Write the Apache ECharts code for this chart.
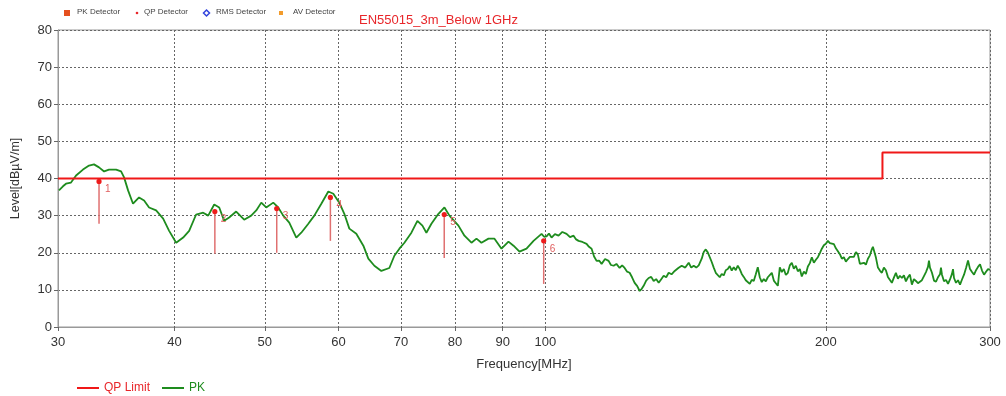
<!DOCTYPE html>
<html>
<head>
<meta charset="utf-8">
<title>EN55015_3m_Below 1GHz</title>
<script src="https://cdn.jsdelivr.net/npm/echarts@6/dist/echarts.min.js"></script>
<style>
  html, body { margin: 0; padding: 0; background: #ffffff; }
  #chart { width: 1006px; height: 396px; }
</style>
</head>
<body>
<div id="chart"></div>
<script>
// Frequency axis tick positions (MHz)
const freqTicks = [30, 40, 50, 60, 70, 80, 90, 100, 200, 300];

// Quasi-peak limit line (MHz, dBµV/m)
const limitFreq = [30, 230, 230, 300];
const limitLevel = [40, 40, 47, 47];

// Peak scan trace (MHz)
const pkFreq = [
  30.07, 30.37, 30.60, 30.98, 31.37, 31.91, 32.39, 32.79, 33.20, 33.62,
  34.03, 34.63, 35.06, 35.32, 35.67, 36.11, 36.65, 37.11, 37.57, 38.23,
  38.90, 39.48, 40.17, 40.87, 41.48, 42.20, 42.94, 43.48, 44.13, 44.68,
  45.23, 45.79, 46.59, 47.52, 48.35, 48.96, 49.57, 50.18, 51.06, 51.69,
  52.34, 53.12, 54.05, 54.72, 55.68, 56.51, 57.50, 58.50, 59.23, 60.11,
  60.86, 61.62, 62.69, 63.79, 64.58, 65.55, 66.69, 68.02, 68.87, 69.73,
  70.60, 71.83, 72.90, 73.81, 74.54, 75.47, 76.79, 77.94, 78.91, 80.68,
  81.89, 83.32, 84.36, 85.40, 86.90, 88.20, 89.74, 91.30, 92.44, 93.82,
  95.46, 97.13, 99.07, 99.7, 100.30, 100.9, 101.55, 102.4, 103.32, 104.3,
  105.39, 106.3, 107.23, 107.9, 108.56, 109.6, 110.73, 111.4, 112.11, 112.8,
  113.50, 114.2, 114.92, 115.9, 116.92, 117.6, 118.38, 119.2, 120.15, 120.9,
  121.64, 122.4, 123.16, 123.9, 124.69, 125.5, 126.24, 126.9, 127.50, 128.3,
  129.08, 129.9, 130.69, 131.5, 132.32, 133.1, 133.96, 134.8, 135.63, 136.6,
  137.66, 138.9, 140.06, 141.3, 142.51, 143.4, 144.28, 145.2, 146.08,
  147.16, 147.90, 148.64, 149.38, 150.11, 150.85, 151.60, 152.36, 153.11, 153.87,
  154.62, 155.40, 156.17, 156.95, 157.72, 158.50, 159.29, 160.08, 160.88, 161.67,
  162.46, 163.27, 164.09, 164.90, 165.72, 166.53, 167.36, 168.20, 169.03, 169.87,
  170.70, 171.56, 172.41, 173.27, 174.12, 174.98, 175.86, 176.73, 177.61, 178.48,
  179.36, 180.26, 181.16, 182.05, 182.95, 183.85, 184.77, 185.69, 186.61, 187.53,
  188.45, 189.40, 190.34, 191.29, 192.23, 193.18, 194.15, 195.11, 196.08, 197.04,
  198.01, 199.00, 199.99, 200.99, 201.98, 202.97, 203.99, 205.00, 206.02, 207.03,
  208.05, 209.09, 210.13, 211.18, 212.22, 213.26, 214.33, 215.40, 216.46, 217.53,
  218.60, 219.70, 220.79, 221.89, 222.98, 224.08, 224.64, 225.20, 226.32, 227.44,
  228.55, 229.67, 230.82, 231.96, 233.11, 234.26, 235.41, 236.59, 237.77, 238.95,
  240.13, 241.31, 242.52, 243.73, 244.93, 246.14, 247.35, 248.59, 249.83, 251.07,
  252.31, 253.55, 254.83, 256.10, 257.38, 258.01, 258.65, 259.93, 261.23, 262.53,
  263.83, 265.13, 265.78, 266.43, 267.77, 269.10, 270.44, 271.77, 273.11, 273.79,
  274.48, 275.84, 277.21, 278.58, 279.95, 281.35, 282.75, 284.15, 285.55, 286.95,
  288.39, 289.83, 291.26, 292.70, 294.14, 295.61, 297.07, 298.54, 300.00
];

// Peak scan trace (dBµV/m)
const pkLevel = [
  36.8, 37.9, 38.6, 38.9, 40.8, 42.4, 43.5, 43.8, 43.0, 41.9,
  42.4, 42.4, 41.9, 40.3, 36.8, 33.2, 34.9, 34.1, 32.2, 31.4,
  29.2, 25.9, 22.7, 24.1, 25.9, 30.3, 30.8, 30.0, 33.0, 32.2,
  28.6, 29.5, 31.1, 28.9, 30.0, 31.4, 33.5, 32.2, 33.5, 32.2,
  30.0, 28.1, 24.1, 25.4, 27.8, 30.0, 33.2, 36.5, 35.9, 33.5,
  30.5, 26.5, 25.1, 21.9, 18.4, 16.5, 15.1, 15.9, 19.2, 21.1,
  22.7, 25.4, 28.6, 27.3, 25.4, 27.8, 30.5, 32.2, 30.0, 27.3,
  24.6, 22.7, 23.8, 22.7, 23.8, 23.8, 21.1, 23.0, 21.9, 20.3,
  21.1, 23.2, 25.1, 24.3, 24.4, 25.2, 24.1, 25.0, 24.6, 25.6,
  25.1, 24.2, 24.6, 23.6, 23.2, 22.9, 22.4, 21.6, 21.1, 19.0,
  17.8, 17.9, 17.0, 18.3, 17.8, 16.7, 16.5, 17.0, 15.9, 16.6,
  15.9, 14.9, 14.6, 13.4, 11.9, 11.0, 9.7, 10.3, 11.1, 12.5,
  13.2, 13.5, 12.4, 12.9, 11.9, 12.8, 13.8, 13.4, 14.6, 14.2,
  15.1, 15.9, 16.5, 16.0, 17.3, 16.0, 16.5, 16.0, 16.6,
  18.4, 20.2, 20.9, 20.1, 18.8, 17.5, 16.0, 14.6, 14.2, 13.4,
  14.3, 13.9, 15.3, 15.6, 16.4, 15.2, 16.1, 15.3, 16.5, 15.6,
  14.3, 13.5, 12.6, 12.9, 11.6, 12.7, 12.4, 14.2, 16.1, 13.4,
  12.1, 12.9, 12.3, 13.4, 13.9, 14.6, 12.5, 11.8, 11.1, 16.1,
  14.8, 15.6, 14.0, 14.6, 16.6, 17.3, 15.7, 16.5, 15.0, 15.6,
  13.6, 14.9, 14.3, 16.3, 17.2, 18.8, 17.3, 18.1, 18.8, 19.9,
  21.1, 22.0, 22.4, 23.2, 22.6, 22.9, 22.3, 21.2, 20.4, 19.6,
  18.4, 18.8, 17.6, 18.3, 18.9, 19.3, 18.9, 20.2, 19.5, 17.0,
  16.5, 17.3, 16.8, 18.4, 19.3, 21.0, 21.6, 21.1, 18.7, 16.0,
  15.2, 14.6, 16.0, 15.3, 13.5, 13.9, 11.9, 13.3, 14.6, 13.0,
  13.8, 13.2, 13.9, 12.3, 13.4, 14.1, 11.4, 12.9, 12.4, 11.8,
  11.4, 12.6, 13.7, 14.8, 16.2, 17.9, 16.0, 14.6, 12.5, 12.2,
  13.4, 14.2, 16.0, 14.1, 12.3, 12.7, 11.6, 12.8, 14.3, 15.6,
  13.2, 11.9, 12.6, 11.4, 12.8, 14.1, 15.9, 17.9, 15.6, 14.8,
  14.1, 15.3, 16.2, 16.9, 15.2, 14.1, 14.9, 15.6, 15.4
];

// Quasi-peak readings: frequency, level and the foot of each marker stem
const qpFreq = [33.2, 44.2, 51.5, 58.8, 77.9, 99.6];
const qpLevel = [39.2, 31.1, 31.9, 34.9, 30.3, 23.2];
const qpFloor = [27.8, 19.7, 20.0, 23.2, 18.6, 11.6];

const pkData = pkFreq.map((f, i) => [f, pkLevel[i]]);
const limitData = limitFreq.map((f, i) => [f, limitLevel[i]]);
const qpData = qpFreq.map((f, i) => [f, qpLevel[i], qpFloor[i], i + 1]);

const chart = echarts.init(document.getElementById('chart'), null, { renderer: 'canvas' });

const gridLine = { show: true, lineStyle: { color: '#666', type: [2, 2], width: 1 } };
const labelFont = { color: '#333', fontSize: 13, fontFamily: 'Liberation Sans, Arial, sans-serif' };
const keyFont = '8px Liberation Sans, Arial, sans-serif';

chart.setOption({
  animation: false,
  backgroundColor: '#ffffff',
  title: {
    text: 'EN55015_3m_Below 1GHz',
    left: 354,
    top: 9,
    textStyle: { color: '#e8262a', fontSize: 13, fontWeight: 'normal', fontFamily: 'Liberation Sans, Arial, sans-serif' }
  },
  legend: {
    left: 72,
    top: 377,
    icon: 'rect',
    itemWidth: 22,
    itemHeight: 2,
    itemGap: 12,
    textStyle: { fontSize: 12, fontFamily: 'Liberation Sans, Arial, sans-serif' },
    data: [
      { name: 'QP Limit', textStyle: { color: '#e8262a' } },
      { name: 'PK', textStyle: { color: '#1e8c1e' } }
    ]
  },
  graphic: [
    // detector key along the top edge
    { type: 'rect', shape: { x: 64, y: 10, width: 6, height: 6 }, style: { fill: '#e5501e' } },
    { type: 'text', x: 77, y: 8, style: { text: 'PK Detector', fill: '#444', font: keyFont } },
    { type: 'circle', shape: { cx: 137, cy: 13, r: 1.3 }, style: { fill: '#e8262a' } },
    { type: 'text', x: 144, y: 8, style: { text: 'QP Detector', fill: '#444', font: keyFont } },
    { type: 'polygon', shape: { points: [[206.5, 10], [209.5, 13], [206.5, 16], [203.5, 13]] }, style: { fill: 'none', stroke: '#3344dd', lineWidth: 1.5 } },
    { type: 'text', x: 216, y: 8, style: { text: 'RMS Detector', fill: '#444', font: keyFont } },
    { type: 'rect', shape: { x: 279, y: 11, width: 4, height: 4 }, style: { fill: '#f29b2b' } },
    { type: 'text', x: 293, y: 8, style: { text: 'AV Detector', fill: '#444', font: keyFont } }
  ],
  grid: {
    left: 58,
    right: 16,
    top: 30,
    bottom: 69,
    outerBoundsMode: 'none',
    containLabel: false,
    show: true,
    borderColor: '#999',
    borderWidth: 1
  },
  xAxis: {
    type: 'log',
    logBase: 10,
    min: 30,
    max: 300,
    name: 'Frequency[MHz]',
    nameLocation: 'middle',
    nameGap: 31,
    nameTextStyle: { color: '#333', fontSize: 13, fontFamily: 'Liberation Sans, Arial, sans-serif' },
    axisLine: { show: true, lineStyle: { color: '#999' } },
    axisTick: { show: true, length: 4, customValues: freqTicks, lineStyle: { color: '#666' } },
    axisLabel: { customValues: freqTicks, margin: 9, formatter: v => String(Math.round(v)), ...labelFont },
    splitLine: gridLine,
    minorSplitLine: { show: false }
  },
  yAxis: {
    type: 'value',
    min: 0,
    max: 80,
    interval: 10,
    name: 'Level[dBµV/m]',
    nameLocation: 'middle',
    nameGap: 36,
    nameRotate: 90,
    nameTextStyle: { color: '#333', fontSize: 12.5, fontFamily: 'Liberation Sans, Arial, sans-serif' },
    axisLine: { show: true, lineStyle: { color: '#999' } },
    axisTick: { show: true, length: 4, lineStyle: { color: '#666' } },
    axisLabel: { margin: 6, ...labelFont },
    splitLine: gridLine
  },
  series: [
    {
      name: 'PK',
      type: 'line',
      data: pkData,
      showSymbol: false,
      smooth: false,
      color: '#1e8c1e',
      lineStyle: { color: '#1e8c1e', width: 1.8 },
      z: 2
    },
    {
      name: 'QP Limit',
      type: 'line',
      data: limitData,
      showSymbol: false,
      color: '#f01818',
      lineStyle: { color: '#f01818', width: 2 },
      z: 3
    },
    {
      name: 'QP Detector',
      type: 'custom',
      data: qpData,
      z: 4,
      renderItem: function (params, api) {
        const top = api.coord([api.value(0), api.value(1)]);
        const foot = api.coord([api.value(0), api.value(2)]);
        return {
          type: 'group',
          children: [
            { type: 'line', shape: { x1: top[0], y1: top[1], x2: foot[0], y2: foot[1] }, style: { stroke: '#e07070', lineWidth: 1.5 } },
            { type: 'circle', shape: { cx: top[0], cy: top[1], r: 2.6 }, style: { fill: '#ee1c1c' } },
            { type: 'text', x: top[0] + 6, y: top[1] + 3, style: { text: String(api.value(3)), fill: '#e06060', font: '10px Liberation Sans, Arial, sans-serif' } }
          ]
        };
      }
    }
  ]
});
</script>
</body>
</html>
